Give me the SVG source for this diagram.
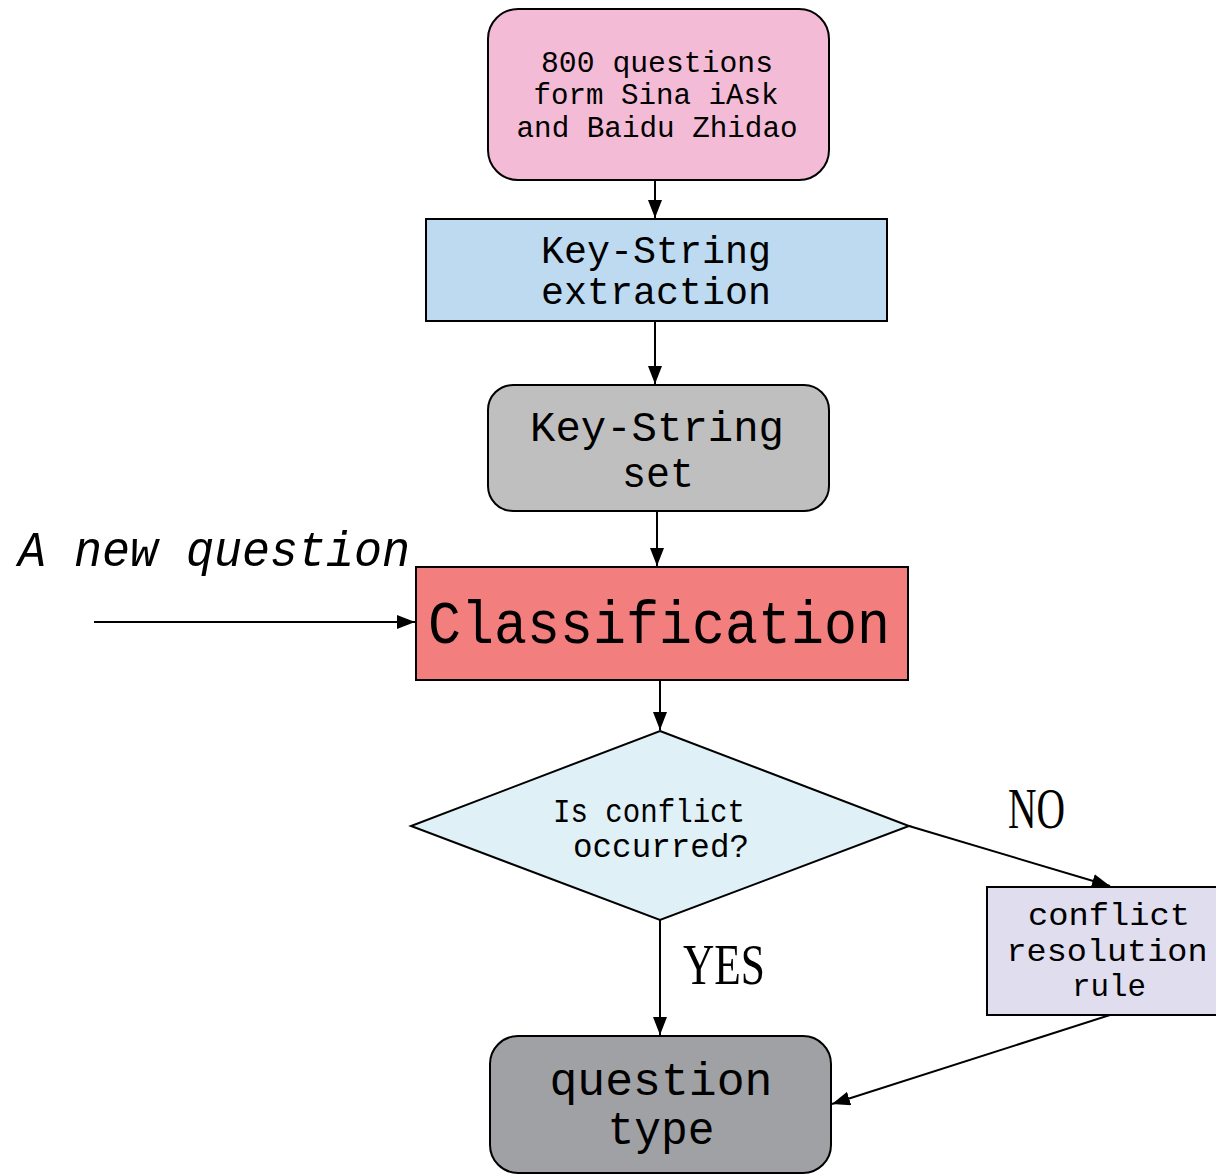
<svg xmlns="http://www.w3.org/2000/svg" width="1216" height="1174" viewBox="0 0 1216 1174">
  <style>
    .box { stroke: #000; stroke-width: 2; }
    .mono { font-family: "Liberation Mono", "DejaVu Sans Mono", monospace; fill: #000; text-anchor: middle; }
    .lbl { font-family: "Liberation Serif", "DejaVu Serif", serif; fill: #000; }
    .edge { stroke: #000; stroke-width: 2; fill: none; marker-end: url(#arrow); }
  </style>
  <defs>
    <marker id="arrow" markerUnits="userSpaceOnUse" markerWidth="18" markerHeight="14" refX="18" refY="7" orient="auto">
      <path d="M0,0 L18,7 L0,14 z" fill="#000"/>
    </marker>
  </defs>
  <rect width="1216" height="1174" fill="#fff"/>

  <!-- connectors -->
  <g id="connectors">
    <line class="edge" x1="655" y1="180" x2="655" y2="218"/>
    <line class="edge" x1="655" y1="321" x2="655" y2="384"/>
    <line class="edge" x1="657" y1="511" x2="657" y2="566"/>
    <line class="edge" x1="94" y1="622" x2="415" y2="622"/>
    <line class="edge" x1="660" y1="680" x2="660" y2="730"/>
    <line class="edge" x1="909" y1="826" x2="1110" y2="886"/>
    <line class="edge" x1="660" y1="920" x2="660" y2="1035"/>
    <line class="edge" x1="1110" y1="1015" x2="832" y2="1104"/>
  </g>

  <!-- edge and input labels -->
  <g id="labels">
    <text class="mono" x="214" y="566" font-size="50" font-style="italic" textLength="392" lengthAdjust="spacingAndGlyphs">A new question</text>
    <text class="lbl" x="1008" y="828" font-size="56" textLength="57" lengthAdjust="spacingAndGlyphs">NO</text>
    <text class="lbl" x="683" y="984" font-size="58" textLength="82" lengthAdjust="spacingAndGlyphs">YES</text>
  </g>

  <g id="source">
    <rect class="box" x="488" y="9" width="341" height="171" rx="30" fill="#F4BBD6"/>
    <text class="mono" x="657" y="72" font-size="30" textLength="232" lengthAdjust="spacingAndGlyphs">800 questions</text>
    <text class="mono" x="656" y="104" font-size="30" textLength="245" lengthAdjust="spacingAndGlyphs">form Sina iAsk</text>
    <text class="mono" x="657" y="137" font-size="30" textLength="281" lengthAdjust="spacingAndGlyphs">and Baidu Zhidao</text>
  </g>

  <g id="extraction">
    <rect class="box" x="426" y="219" width="461" height="102" fill="#BDDAF0"/>
    <text class="mono" x="656" y="263" font-size="38" textLength="230" lengthAdjust="spacingAndGlyphs">Key-String</text>
    <text class="mono" x="656" y="304" font-size="38" textLength="230" lengthAdjust="spacingAndGlyphs">extraction</text>
  </g>

  <g id="keyset">
    <rect class="box" x="488" y="385" width="341" height="126" rx="25" fill="#BFBFBF"/>
    <text class="mono" x="657" y="441" font-size="42" textLength="254" lengthAdjust="spacingAndGlyphs">Key-String</text>
    <text class="mono" x="658" y="487" font-size="42" textLength="72" lengthAdjust="spacingAndGlyphs">set</text>
  </g>

  <g id="classification">
    <rect class="box" x="416" y="567" width="492" height="113" fill="#F37E7E"/>
    <text class="mono" x="659" y="643" font-size="62" textLength="462" lengthAdjust="spacingAndGlyphs">Classification</text>
  </g>

  <g id="decision">
    <polygon class="box" points="660,731 909,826 660,920 411,826" fill="#DFF1F6"/>
    <text class="mono" x="649" y="822" font-size="34" textLength="192" lengthAdjust="spacingAndGlyphs">Is conflict</text>
    <text class="mono" x="661" y="857" font-size="34" textLength="176" lengthAdjust="spacingAndGlyphs">occurred?</text>
  </g>

  <g id="resolution">
    <rect class="box" x="987" y="887" width="232" height="128" fill="#DFDDEE"/>
    <text class="mono" x="1109" y="925" font-size="32" textLength="162" lengthAdjust="spacingAndGlyphs">conflict</text>
    <text class="mono" x="1107" y="961" font-size="32" textLength="201" lengthAdjust="spacingAndGlyphs">resolution</text>
    <text class="mono" x="1109" y="996" font-size="32" textLength="74" lengthAdjust="spacingAndGlyphs">rule</text>
  </g>

  <g id="result">
    <rect class="box" x="490" y="1036" width="341" height="137" rx="28" fill="#A0A1A5"/>
    <text class="mono" x="661" y="1095" font-size="46" textLength="223" lengthAdjust="spacingAndGlyphs">question</text>
    <text class="mono" x="661" y="1144" font-size="46" textLength="107" lengthAdjust="spacingAndGlyphs">type</text>
  </g>
</svg>
